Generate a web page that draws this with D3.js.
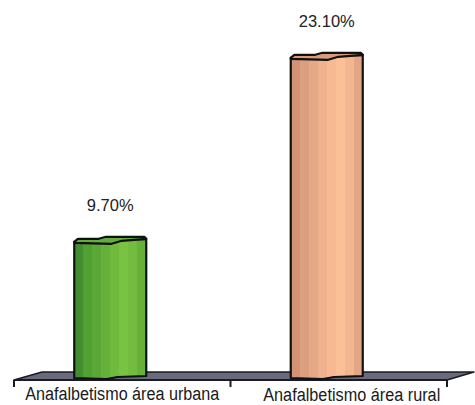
<!DOCTYPE html>
<html>
<head>
<meta charset="utf-8">
<script src="https://cdn.jsdelivr.net/npm/d3@7"></script>
<style>
  html, body { margin: 0; padding: 0; background: #ffffff; }
  svg { display: block; }
</style>
</head>
<body>
<svg id="chart" width="475" height="405"></svg>
<script>
// Illiteracy rates by area
const categories = ["Anafalbetismo área urbana", "Anafalbetismo área rural"];
const values = [9.7, 23.1];
const valueLabels = ["9.70%", "23.10%"];

// Bar palettes: stripe colours from left edge to right edge, plus the cap colour
const palettes = [
  { stripes: ["#428d2d", "#50a032", "#5ca837", "#66b13a", "#70ba3e", "#79c242", "#73bc40", "#67b13b"], cap: "#64ad3a" },
  { stripes: ["#d29375", "#dc9f80", "#e6a988", "#efb28e", "#f6b991", "#fcc096", "#f3b690", "#e4a685"], cap: "#dc9a7d" }
];

const svg = d3.select("#chart");
const defs = svg.append("defs");

const floorFront = 380, floorBack = 372;
const x = d3.scaleBand().domain(categories).range([14, 447]).padding(0);
const y = d3.scaleLinear().domain([0, 25]).range([373, 29.7]);
const barW = 72;
const barShift = -12;

// Floor slab
const floor = svg.append("g");
floor.append("path")
  .attr("d", `M14,${floorFront} L447,${floorFront} L474,${floorBack} L42,${floorBack} Z`)
  .attr("fill", "#696a7c")
  .attr("stroke", "#1a1a22")
  .attr("stroke-width", 1.5)
  .attr("stroke-linejoin", "round");
floor.append("line")
  .attr("x1", 14).attr("x2", 447).attr("y1", floorFront).attr("y2", floorFront)
  .attr("stroke", "#1a1a22").attr("stroke-width", 2);

// Category ticks along the front edge
const tickXs = [x.range()[0], ...categories.slice(1).map(c => x(c)), x.range()[1]];
floor.selectAll("line.tick").data(tickXs).join("line")
  .attr("class", "tick")
  .attr("x1", d => d).attr("x2", d => d)
  .attr("y1", floorFront).attr("y2", floorFront + 7)
  .attr("stroke", "#1a1a22").attr("stroke-width", 2);

// Striped gradients
palettes.forEach((p, i) => {
  const g = defs.append("linearGradient").attr("id", "bar" + i)
    .attr("x1", "0%").attr("x2", "100%").attr("y1", "0%").attr("y2", "0%");
  const n = p.stripes.length;
  p.stripes.forEach((c, k) => {
    g.append("stop").attr("offset", (k / n * 100) + "%").attr("stop-color", c);
    g.append("stop").attr("offset", ((k + 1) / n * 100) + "%").attr("stop-color", c);
  });
});

const bars = svg.append("g");
values.forEach((v, i) => {
  const cx = x(categories[i]) + x.bandwidth() / 2 + barShift;
  const x0 = cx - barW / 2, x1 = cx + barW / 2, w = barW;
  const yt = y(v), yb = floorFront - 2;

  // body with a slightly wavy base
  bars.append("path")
    .attr("d", `M${x0},${yt + 2} L${x0},${yb} L${x0 + 0.45 * w},${yb + 1} L${x0 + 0.6 * w},${yb - 1} L${x1},${yb - 2} L${x1},${yt - 1} Z`)
    .attr("fill", `url(#bar${i})`)
    .attr("stroke", "#111").attr("stroke-width", 2.2).attr("stroke-linejoin", "round");

  // top cap
  bars.append("path")
    .attr("d", `M${x0},${yt + 2} L${x0 + 0.05 * w},${yt - 1} L${x0 + 0.34 * w},${yt - 1} L${x0 + 0.44 * w},${yt - 3} L${x1 - 2},${yt - 3} L${x1},${yt - 1} L${x0 + 0.66 * w},${yt + 1} L${x0 + 0.52 * w},${yt + 4} L${x0},${yt + 3} Z`)
    .attr("fill", palettes[i].cap)
    .attr("stroke", "#111").attr("stroke-width", 2.2).attr("stroke-linejoin", "round");

  // value label
  svg.append("text")
    .attr("x", cx)
    .attr("y", yt - 29)
    .attr("text-anchor", "middle")
    .attr("font-family", "'Liberation Sans', Arial, sans-serif")
    .attr("font-size", 16.5)
    .attr("fill", "#222")
    .text(valueLabels[i]);
});

// Category labels under the floor
const labelDx = [0, 13];
const labelDy = [0, 1];
const labelLen = [194, 177];
svg.append("g").selectAll("text").data(categories).join("text")
  .attr("x", (d, i) => x(d) + x.bandwidth() / 2 + labelDx[i])
  .attr("y", (d, i) => 400 + labelDy[i])
  .attr("text-anchor", "middle")
  .attr("font-family", "'Liberation Sans', Arial, sans-serif")
  .attr("font-size", 18)
  .attr("fill", "#1a1a1a")
  .attr("textLength", (d, i) => labelLen[i])
  .attr("lengthAdjust", "spacingAndGlyphs")
  .text(d => d);
</script>
</body>
</html>
